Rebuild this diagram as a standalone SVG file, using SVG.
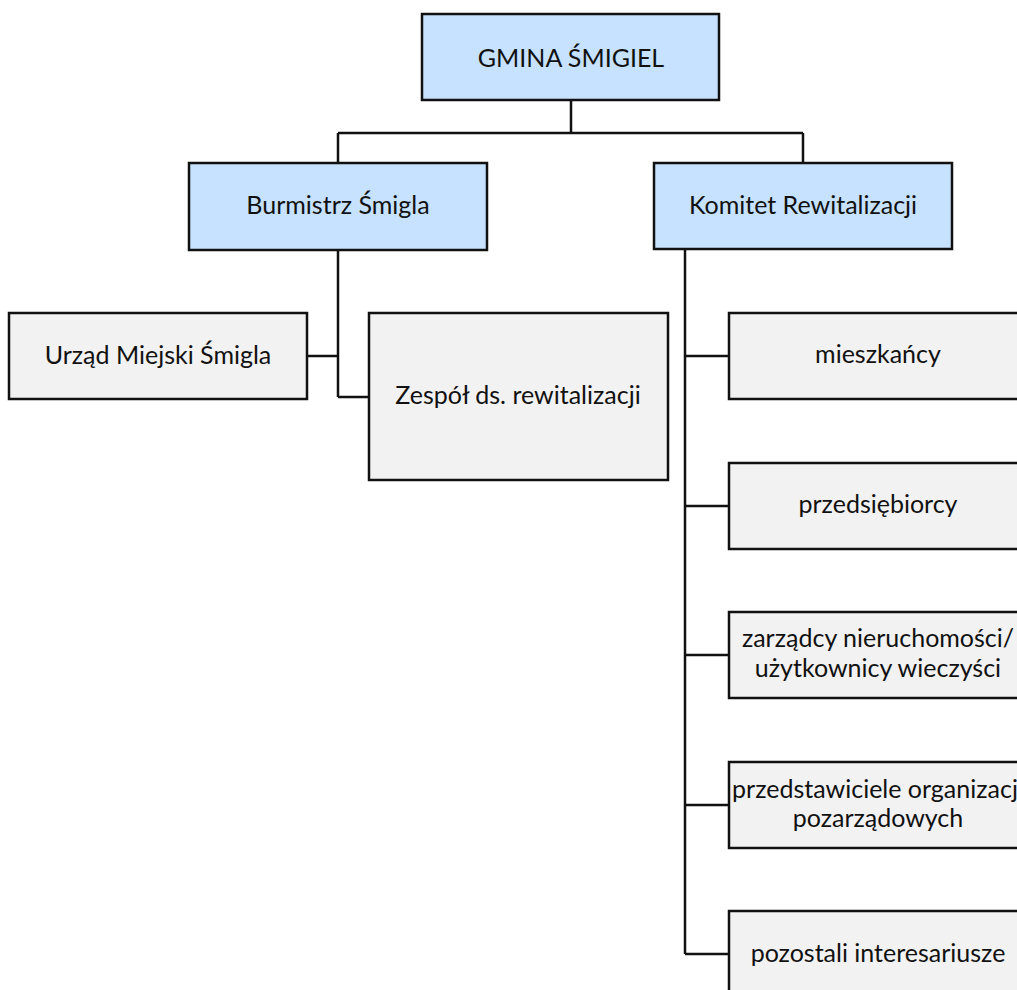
<svg xmlns="http://www.w3.org/2000/svg" width="1017" height="990" viewBox="0 0 1017 990">
<style>
.b{fill:#C6E2FF;stroke:#111;stroke-width:2.5}
.g{fill:#F2F2F2;stroke:#111;stroke-width:2.5}
.t{font-family:Lato,"Open Sans","Liberation Sans",sans-serif;font-size:25px;fill:#111;text-anchor:middle}
.c{fill:none;stroke:#111;stroke-width:2.5}
</style>
<rect width="1017" height="990" fill="#fff"/>
<g id="connectors" class="c">
<path d="M571 100V133M338 133H803M338 133V163M803 133V163"/>
<path d="M338 250V397M307 356H338M338 397H369"/>
<path d="M685 249V954M685 356H729M685 506H729M685 655H729M685 805H729M685 954H729"/>
</g>
<g id="gmina"><rect class="b" x="422" y="14" width="297" height="86"/><text class="t" x="571" y="67">GMINA ŚMIGIEL</text></g>
<g id="burmistrz"><rect class="b" x="189" y="163" width="298" height="87"/><text class="t" x="338" y="214">Burmistrz Śmigla</text></g>
<g id="komitet"><rect class="b" x="654" y="163" width="298" height="86"/><text class="t" x="803" y="214">Komitet Rewitalizacji</text></g>
<g id="urzad"><rect class="g" x="9" y="313" width="298" height="86"/><text class="t" x="158" y="364">Urząd Miejski Śmigla</text></g>
<g id="zespol"><rect class="g" x="369" y="313" width="299" height="167"/><text class="t" x="518" y="404">Zespół ds. rewitalizacji</text></g>
<g id="mieszkancy"><rect class="g" x="729" y="313" width="298" height="86"/><text class="t" x="878" y="363">mieszkańcy</text></g>
<g id="przedsiebiorcy"><rect class="g" x="729" y="463" width="298" height="86"/><text class="t" x="878" y="513">przedsiębiorcy</text></g>
<g id="zarzadcy"><rect class="g" x="729" y="612" width="298" height="86"/><text class="t" x="878" y="647">zarządcy nieruchomości/</text><text class="t" x="878" y="677">użytkownicy wieczyści</text></g>
<g id="przedstawiciele"><rect class="g" x="729" y="762" width="298" height="86"/><text class="t" x="878" y="798">przedstawiciele organizacji</text><text class="t" x="878" y="827">pozarządowych</text></g>
<g id="pozostali"><rect class="g" x="729" y="911" width="298" height="86"/><text class="t" x="878" y="962">pozostali interesariusze</text></g>
</svg>
